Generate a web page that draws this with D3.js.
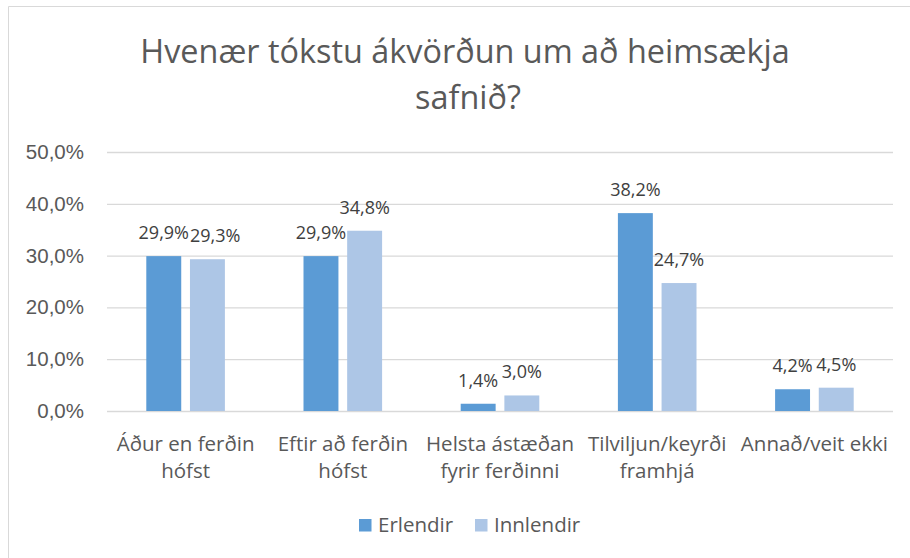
<!DOCTYPE html>
<html>
<head>
<meta charset="utf-8">
<script src="https://cdn.jsdelivr.net/npm/d3@7"></script>
<style>
  body { margin: 0; background: #fff; }
  svg { display: block; font-family: "Open Sans", sans-serif; }
  .tick text { fill: #595959; font-size: 20.5px; }
  .domain { display: none; }
</style>
</head>
<body>
<svg width="910" height="558"></svg>
<script>
const svg = d3.select('svg');
const width  = +svg.attr('width');
const height = +svg.attr('height');

// chart data
const categories = [
  ['Áður en ferðin', 'hófst'],
  ['Eftir að ferðin', 'hófst'],
  ['Helsta ástæðan', 'fyrir ferðinni'],
  ['Tilviljun/keyrði', 'framhjá'],
  ['Annað/veit ekki']
];
const seriesNames = ['Erlendir', 'Innlendir'];
const erlendir  = [29.9, 29.9, 1.4, 38.2, 4.2];
const innlendir = [29.3, 34.8, 3.0, 24.7, 4.5];
const yTicks = [0, 10, 20, 30, 40, 50];
const colors = ['#5B9BD5', '#ADC6E6'];

const fmt = v => v.toFixed(1).replace('.', ',') + '%';

// outer frame (right and bottom edges lie outside the picture)
svg.append('path')
  .attr('d', `M8.5,${height}V6.5H${width}`)
  .attr('fill', 'none')
  .attr('stroke', '#D9D9D9');

// title
const title = svg.append('text')
  .attr('text-anchor', 'middle')
  .attr('fill', '#595959')
  .style('font-size', '32.4px');
title.append('tspan').attr('x', 465).attr('y', 63).text('Hvenær tókstu ákvörðun um að heimsækja');
title.append('tspan').attr('x', 468).attr('y', 109).text('safnið?');

const margin = { top: 152, bottom: 147, left: 107, right: 17 };
const innerWidth = width - margin.left - margin.right;
const innerHeight = height - margin.top - margin.bottom;

const g = svg.append('g')
  .attr('transform', `translate(${margin.left},${margin.top})`);

const x0 = d3.scaleBand()
  .domain(d3.range(categories.length))
  .range([0, innerWidth]);

const x1 = d3.scaleBand()
  .domain(seriesNames)
  .range([x0.bandwidth() * 0.25, x0.bandwidth() * 0.75])
  .paddingInner(0.2);

const y = d3.scaleLinear()
  .domain([0, 50])
  .range([innerHeight, 0]);

// gridlines + y axis
g.append('g')
  .call(d3.axisLeft(y).tickValues(yTicks).tickFormat(fmt).tickSize(-innerWidth).tickPadding(23))
  .call(a => a.selectAll('.tick line').attr('stroke', '#D9D9D9').attr('stroke-width', 1.3));

const rows = categories.map((c, i) => ({ i, values: [erlendir[i], innlendir[i]] }));

const grp = g.selectAll('.grp')
  .data(rows).enter()
  .append('g')
  .attr('transform', d => `translate(${x0(d.i)},0)`);

grp.selectAll('rect')
  .data(d => d.values.map((v, k) => ({ k, v })))
  .enter().append('rect')
  .attr('x', d => x1(seriesNames[d.k]))
  .attr('width', x1.bandwidth())
  .attr('y', d => y(d.v))
  .attr('height', d => innerHeight - y(d.v))
  .attr('fill', d => colors[d.k]);

grp.selectAll('.lbl')
  .data(d => d.values.map((v, k) => ({ k, v })))
  .enter().append('text')
  .attr('class', 'lbl')
  .attr('text-anchor', 'middle')
  .attr('x', d => x1(seriesNames[d.k]) + x1.bandwidth() / 2)
  .attr('y', d => y(d.v) - 17)
  .attr('fill', '#404040')
  .style('font-size', '18px')
  .text(d => fmt(d.v));

// nudge the second label right when two labels in a group collide
grp.each(function () {
  const lbls = d3.select(this).selectAll('.lbl').nodes();
  const a = lbls[0].getBBox(), b = lbls[1].getBBox();
  const vOverlap = a.y < b.y + b.height && b.y < a.y + a.height;
  const gap = (a.x + a.width + 1) - b.x;
  if (vOverlap && gap > 0) {
    d3.select(lbls[1]).attr('x', +d3.select(lbls[1]).attr('x') + gap);
  }
});

// category labels
const cat = g.selectAll('.cat')
  .data(rows).enter()
  .append('text')
  .attr('class', 'cat')
  .attr('text-anchor', 'middle')
  .attr('fill', '#595959')
  .style('font-size', '20.5px')
  .attr('transform', d => `translate(${x0(d.i) + x0.bandwidth() / 2},${innerHeight + 40})`);
cat.selectAll('tspan')
  .data(d => categories[d.i])
  .enter().append('tspan')
  .attr('x', 0)
  .attr('y', (d, k) => k * 27)
  .text(d => d);

// legend
const legend = svg.append('g').attr('transform', 'translate(359,519)');
const items = legend.selectAll('g')
  .data(seriesNames).enter()
  .append('g')
  .attr('transform', (d, i) => `translate(${i * 116},0)`);
items.append('rect')
  .attr('width', 12.5).attr('height', 12.5)
  .attr('fill', (d, i) => colors[i]);
items.append('text')
  .attr('x', 19).attr('y', 13)
  .attr('fill', '#595959')
  .style('font-size', '20.5px')
  .text(d => d);
</script>
</body>
</html>
